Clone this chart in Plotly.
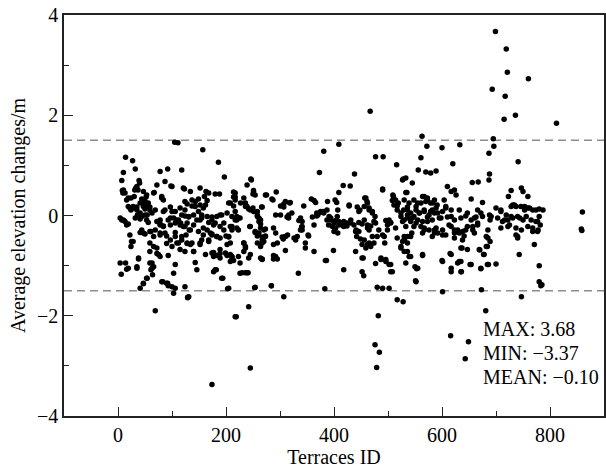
import plotly.graph_objects as go

# (terrace ID, average elevation change in m)
points_left = [
(105,1.46),(111,1.45),(157,1.31),(14,1.16),(27,1.09),(186,1.06),(32,0.93),(10,0.86),(78,0.88),(92,0.93),(118,0.91),(197,0.77),(7,0.70),(39,0.70),(40,0.65),(72,0.61),(87,0.68),(98,0.59),(8,0.50),(9,0.45),(33,0.55),(37,0.51),(67,0.46),(81,0.35),(84,0.31),(123,0.53),(134,0.48),(152,0.55),(163,0.48),(180,0.43),(188,0.43),(214,0.47),(217,0.37),(16,0.31),(24,0.35),(30,0.38),(44,0.33),(52,0.37),(149,0.33),(160,0.38),(165,0.30),(19,0.18),(24,0.11),(28,0.15),(35,0.17),(47,0.25),(54,0.19),(59,0.17),(50,0.13),(41,0.05),(36,0.01),(54,0.01),(69,0.11),(84,0.08),(97,0.17),(106,0.08),(115,0.15),(124,-0.01),(131,-0.03),(128,0.23),(137,0.19),(143,0.28),(149,0.08),(155,0.01),(165,-0.02),(174,-0.03),(183,-0.02),(189,0.01),(202,0.05),(7,-0.09),(13,-0.12),(19,-0.17),(41,-0.07),(56,-0.14),(72,-0.12),(78,-0.17),(84,-0.21),(97,-0.05),(109,-0.09),(116,-0.15),(124,-0.22),(132,-0.29),(140,-0.19),(152,-0.09),(168,-0.14),(177,-0.19),(196,-0.15),(208,-0.22),(220,-0.09),(22,-0.39),(41,-0.34),(50,-0.37),(61,-0.32),(78,-0.35),(90,-0.41),(106,-0.34),(118,-0.42),(126,-0.39),(158,-0.39),(174,-0.37),(183,-0.42),(200,-0.41),(205,-0.43),(25,-0.52),(24,-0.62),(59,-0.55),(66,-0.62),(90,-0.56),(100,-0.62),(109,-0.55),(128,-0.56),(152,-0.55),(168,-0.52),(59,-0.72),(72,-0.76),(78,-0.82),(93,-0.80),(115,-0.68),(140,-0.72),(162,-0.78),(177,-0.74),(189,-0.76),(202,-0.80),(211,-0.82),(38,-0.87),(208,-0.92),(4,-0.95),(14,-0.95),(63,-0.95),(66,-1.02),(106,-0.98),(143,-0.94),(146,-1.08),(6,-1.17),(16,-1.07),(35,-1.05),(61,-1.08),(64,-1.18),(103,-1.15),(177,-1.12),(182,-1.08),(194,-1.25),(226,-1.15),(54,-1.25),(47,-1.35),(41,-1.45),(83,-1.32),(92,-1.35),(93,-1.40),(106,-1.45),(103,-1.55),(129,-1.63),(203,-1.46),(69,-1.90),(219,-2.02),
(100,0.58),(121,0.55),(10,0.51),(13,0.45),(19,0.35),(31,0.51),(35,0.58),(47,0.48),(53,0.41),(66,0.45),(81,0.38),(28,0.18),(22,0.15),(35,0.11),(41,0.25),(47,0.18),(50,0.28),(56,0.25),(59,0.11),(63,0.05),(50,0.01),(44,-0.02),(4,-0.05),(10,-0.09),(16,-0.19),(32,-0.05),(53,-0.09),(78,-0.09),(87,0.11),(100,0.08),(103,-0.05),(112,-0.09),(118,0.01),(124,0.11),(131,-0.02),(78,-0.19),(84,-0.22),(93,-0.09),(97,-0.19),(106,-0.15),(115,-0.19),(121,-0.22),(128,-0.15),(134,-0.29),(44,-0.29),(47,-0.35),(59,-0.32),(66,-0.42),(69,-0.29),(78,-0.39),(87,-0.35),(97,-0.49),(106,-0.42),(112,-0.55),(118,-0.49),(128,-0.55),(134,-0.58),(28,-0.52),(38,-0.85),(72,-0.65),(75,-0.78),(19,-1.05),(35,-1.02),(59,-0.95),(63,-1.05),(53,-1.25),(47,-1.36),(81,-1.32),(90,-1.35),(100,-1.42),(124,-1.42),(131,-1.62),
(168,0.45),(247,0.71),(251,0.48),(254,0.41),(273,0.41),(124,0.28),(137,0.31),(143,0.18),(152,0.21),(158,0.15),(162,0.21),(205,0.25),(217,0.31),(236,0.25),(239,0.18),(245,0.11),(251,0.08),(258,0.01),(261,-0.05),(267,0.17),(140,0.01),(146,-0.09),(155,-0.05),(174,-0.09),(192,0.01),(211,-0.02),(217,0.08),(226,-0.05),(149,-0.32),(158,-0.25),(165,-0.29),(171,-0.35),(180,-0.15),(189,-0.22),(196,-0.29),(211,-0.22),(220,-0.25),(223,-0.29),(245,-0.22),(254,-0.32),(261,-0.35),(267,-0.49),(270,-0.29),(137,-0.55),(152,-0.58),(155,-0.49),(168,-0.49),(174,-0.39),(183,-0.42),(189,-0.45),(205,-0.42),(202,-0.58),(233,-0.55),(236,-0.65),(233,-0.72),(242,-0.85),(258,-0.55),(264,-0.62),(124,-0.72),(140,-0.72),(174,-0.75),(177,-0.82),(183,-0.80),(189,-0.68),(189,-0.85),(199,-0.75),(208,-0.78),(211,-0.88),(223,-0.82),(226,-0.95),(245,-0.78),(180,-1.08),(192,-1.25),(236,-1.14),(241,-1.14),(205,-1.45),(254,-1.43),(129,-1.64),
]

points_middle = [
(467,2.08),(409,1.42),(381,1.28),(477,1.17),(491,1.17),(516,1.01),(373,0.86),(438,0.83),(246,0.73),(239,0.61),(528,0.73),(533,0.75),(417,0.60),(430,0.59),(490,0.53),(217,0.45),(214,0.37),(251,0.50),(250,0.43),(275,0.41),(285,0.33),(293,0.47),(233,0.35),(358,0.33),(363,0.30),(409,0.46),(402,0.31),(388,0.28),(457,0.35),(461,0.28),(510,0.38),(508,0.30),(301,0.19),(307,0.23),(318,0.25),(344,0.19),(227,0.25),(236,0.18),(242,0.13),(250,0.15),(258,0.08),(266,0.17),(208,0.25),(214,0.19),(368,0.05),(375,0.08),(381,0.05),(428,0.19),(443,0.17),(448,0.11),(456,0.18),(465,0.11),(471,0.05),(517,0.19),(529,0.11),(536,0.17),(292,0.01),(301,0.01),(316,0.01),(322,0.05),(220,-0.02),(217,-0.09),(223,-0.05),(258,-0.02),(261,-0.12),(264,-0.17),(335,-0.10),(341,-0.12),(338,-0.05),(360,-0.03),(370,0.01),(391,-0.02),(394,-0.09),(400,-0.15),(409,-0.19),(418,-0.12),(424,-0.21),(431,-0.15),(446,-0.14),(452,-0.17),(462,-0.25),(468,-0.21),(474,-0.12),(496,-0.10),(499,-0.19),(505,-0.14),(530,-0.09),(536,-0.05),(542,-0.12),(211,-0.29),(244,-0.22),(254,-0.34),(258,-0.41),(267,-0.43),(270,-0.52),(273,-0.41),(288,-0.25),(292,-0.35),(304,-0.43),(310,-0.42),(314,-0.39),(326,-0.45),(332,-0.42),(341,-0.29),(340,-0.23),(352,-0.39),(440,-0.32),(442,-0.42),(449,-0.47),(456,-0.49),(462,-0.58),(468,-0.62),(474,-0.55),(480,-0.42),(490,-0.39),(494,-0.55),(517,-0.45),(527,-0.52),(530,-0.42),(208,-0.55),(233,-0.55),(236,-0.62),(288,-0.80),(295,-0.87),(267,-0.88),(310,-0.70),(214,-0.90),(211,-0.82),(384,-0.90),(399,-0.70),(454,-0.85),(477,-0.96),(487,-0.88),(496,-0.92),(505,-0.98),(508,-1.12),(530,-0.72),(533,-0.95),(230,-1.14),(239,-1.14),(334,-1.15),(418,-1.08),(452,-1.12),(455,-1.20),(253,-1.44),(284,-1.40),(383,-1.46),(480,-1.43),(490,-1.45),(502,-1.45),(307,-1.62),(517,-1.68),(528,-1.72),(242,-1.82),(217,-2.02),(482,-2.00),
(287,0.31),(310,0.28),(319,0.26),(307,0.17),(313,-0.03),(316,-0.05),(341,-0.22),(338,-0.29),(329,-0.49),(310,-0.42),(306,-0.47),(295,-0.55),(288,-0.58),(292,-0.82),(288,-0.87),(267,-0.87),(347,-0.55),(347,-0.65),(353,-0.41),(363,-0.19),(363,-0.72),(366,0.26),(368,-0.01),(374,0.06),(380,0.08),(387,0.11),(394,-0.05),(403,-0.10),(387,-0.09),(390,-0.19),(397,-0.22),(403,-0.25),(407,-0.35),(400,-0.32),(407,0.11),(405,0.26),(386,-0.90),(284,-1.40),(264,-0.09),(264,-0.25),(273,-0.27),(273,-0.42),(267,-0.55),(264,-0.85),
(490,0.51),(527,0.71),(533,0.46),(509,0.41),(514,0.31),(519,0.25),(511,0.21),(517,0.11),(524,0.05),(539,0.25),(536,0.01),(459,0.35),(462,0.25),(465,0.15),(471,0.08),(476,-0.02),(477,-0.15),(406,-0.02),(409,-0.12),(415,-0.19),(418,-0.22),(424,-0.15),(431,-0.09),(437,-0.19),(441,-0.29),(446,-0.32),(428,0.21),(446,0.08),(456,-0.09),(462,-0.19),(465,-0.29),(471,-0.42),(468,-0.58),(483,-0.29),(493,-0.42),(499,-0.29),(502,-0.09),(505,-0.15),(514,-0.25),(524,-0.62),(530,-0.49),(536,-0.42),(544,-0.35),(536,-0.72),(550,-1.02),(440,-0.72),(452,-0.58),(459,-0.65),(465,-0.55),(452,-0.85),(487,-0.85),(496,-0.88),(502,-0.98),(505,-1.12),
]

points_right = [
(699,3.67),(719,3.32),(721,2.86),(760,2.73),(693,2.52),(717,2.38),(715,1.92),(736,2.00),(812,1.84),(563,1.58),(695,1.53),(696,1.38),(572,1.38),(600,1.35),(633,1.41),(687,1.24),(561,1.15),(620,1.03),(741,1.07),(556,0.91),(570,0.87),(579,0.85),(589,0.89),(688,0.83),(687,0.71),(545,0.65),(656,0.66),(667,0.67),
(610,0.58),(617,0.48),(623,0.51),(626,0.41),(728,0.50),(723,0.38),(747,0.55),(750,0.48),(759,0.38),(535,0.46),(530,0.31),(567,0.38),(573,0.31),(583,0.25),(561,0.25),(552,0.18),(654,0.33),(675,0.26),(604,0.31),(607,0.18),(700,0.15),(709,0.11),(731,0.21),(737,0.18),(753,0.18),(762,0.15),(774,0.11),(780,0.13),(536,0.11),(542,0.05),(548,-0.02),(558,0.05),(567,0.11),(579,0.08),(589,0.15),(586,0.05),(598,-0.05),(617,-0.02),(632,0.11),(647,0.05),(666,0.11),(660,-0.05),(691,-0.02),(703,-0.05),(716,-0.09),(728,-0.02),(744,-0.05),(756,-0.02),(765,-0.09),(777,-0.12),(524,-0.02),(527,-0.12),(533,-0.22),(552,-0.15),(561,-0.22),(573,-0.12),(567,-0.29),(586,-0.29),(592,-0.35),(601,-0.39),(613,-0.19),(623,-0.29),(632,-0.35),(644,-0.29),(657,-0.22),(666,-0.15),(709,-0.25),(722,-0.22),(737,-0.25),(747,-0.29),(759,-0.22),(768,-0.32),(778,-0.29),(782,-0.19),(740,-0.42),(638,-0.49),(647,-0.68),(637,-0.65),(685,-0.45),(689,-0.52),(682,-0.62),(530,-0.49),(536,-0.55),(524,-0.65),(539,-0.82),(564,-0.80),(600,-0.90),(615,-0.76),(617,-1.05),(632,-0.92),(636,-1.12),(652,-0.98),(672,-1.06),(686,-0.98),(700,-0.97),(670,-0.69),(677,-0.78),(743,-0.78),(771,-0.58),(780,-1.00),(553,-1.06),(551,-1.30),(780,-1.32),(783,-1.40),(785,-1.38),(601,-1.52),(673,-1.48),(747,-1.62),(681,-1.90),(860,0.07),(858,-0.27),(859,-0.30),
(548,0.31),(555,0.25),(564,0.38),(570,0.28),(573,0.35),(579,0.25),(586,0.31),(591,0.21),(552,0.11),(558,0.05),(567,0.08),(576,0.01),(582,0.11),(592,0.05),(601,0.08),(607,0.15),(617,0.11),(545,-0.05),(555,-0.09),(564,-0.12),(573,-0.03),(582,-0.09),(595,-0.05),(610,-0.03),(623,-0.09),(635,-0.05),(644,-0.01),(654,-0.09),(663,-0.03),(672,0.05),(548,-0.22),(567,-0.25),(576,-0.29),(586,-0.35),(589,-0.25),(601,-0.29),(607,-0.39),(617,-0.22),(623,-0.35),(629,-0.29),(638,-0.32),(647,-0.22),(657,-0.29),(666,-0.19),(675,-0.02),(542,-0.42),(564,-0.35),(582,-0.42),(623,-0.45),(641,-0.41),(660,-0.35),(682,-0.42),(685,-0.29),(635,-0.65),(669,-0.68),(678,-0.78),(684,-0.62),(601,-0.92),(617,-0.78),(629,-0.95),(635,-0.92),(617,-1.12),(635,-1.12),(654,-0.98),(672,-1.05),(684,-0.98),(542,-0.82),(564,-0.78),(555,-1.05),(552,-1.32),
(712,-0.12),(722,-0.09),(731,-0.05),(740,-0.02),(750,-0.09),(774,-0.12),(780,-0.02),(725,-0.19),(768,-0.25),(777,-0.32),(737,-0.39),(740,-0.45),(688,0.01),(689,-0.09),(734,0.21),(746,0.18),(753,0.11),(759,0.15),(768,0.11),(787,0.11),(709,0.08),(719,0.01),(728,0.18),
]

points_low_outliers = [
(174,-3.37),(245,-3.04),(476,-2.58),(484,-2.73),(479,-3.03),(616,-2.40),(649,-2.52),(643,-2.86),
]

threshold_levels = [1.5, -1.5]
stat_labels = ["MAX: 3.68", "MIN: \u22123.37", "MEAN: \u22120.10"]
stat_label_y = [-2.26, -2.74, -3.22]

all_points = points_left + points_middle + points_right + points_low_outliers
terrace_id = [p[0] for p in all_points]
elev_change = [p[1] for p in all_points]

FONT = "Liberation Serif, Times New Roman, serif"

fig = go.Figure()
fig.add_trace(go.Scatter(
    x=terrace_id, y=elev_change, mode="markers",
    marker=dict(color="black", size=5.5, line=dict(width=0)),
    showlegend=False, hoverinfo="x+y",
))

for lvl in threshold_levels:
    fig.add_shape(type="line", xref="paper", x0=0, x1=1, yref="y", y0=lvl, y1=lvl,
                  line=dict(color="#8c8c8c", width=1.5, dash="8px,5px"), layer="below")

for txt, yy in zip(stat_labels, stat_label_y):
    fig.add_annotation(x=672, y=yy, xref="x", yref="y", text=txt, showarrow=False,
                       xanchor="left", yanchor="middle",
                       font=dict(family=FONT, size=20, color="black"))

axis_common = dict(
    showline=True, linecolor="#222222", linewidth=1.5, mirror=True,
    ticks="inside", ticklen=9, tickwidth=1.3, tickcolor="#222222",
    showgrid=False, zeroline=False, ticklabeloverflow="allow", automargin=False,
    tickfont=dict(family=FONT, size=20, color="black"),
)

fig.update_xaxes(range=[-100, 900], tickmode="linear", tick0=0, dtick=200,
                 minor=dict(dtick=100, tick0=0, ticks="inside", ticklen=5, tickwidth=1.3, tickcolor="#222222"),
                 title=dict(text="Terraces ID", font=dict(family=FONT, size=20, color="black"), standoff=4),
                 **axis_common)
fig.update_yaxes(range=[-4, 4], tickmode="linear", tick0=0, dtick=2,
                 minor=dict(dtick=1, tick0=0, ticks="inside", ticklen=5, tickwidth=1.3, tickcolor="#222222"),
                 title=dict(text="Average elevation changes/m", font=dict(family=FONT, size=20, color="black"), standoff=6),
                 **axis_common)

fig.update_layout(
    width=606, height=469,
    margin=dict(l=64, r=2, t=15, b=53),
    plot_bgcolor="white", paper_bgcolor="white",
    font=dict(family=FONT, color="black"),
)

# remove the page's default body margin so the 606x469 figure fills the window exactly
fig.write_html("out.html", config={"displayModeBar": False},
               post_script="document.body.style.margin='0';document.body.style.overflow='hidden';")
